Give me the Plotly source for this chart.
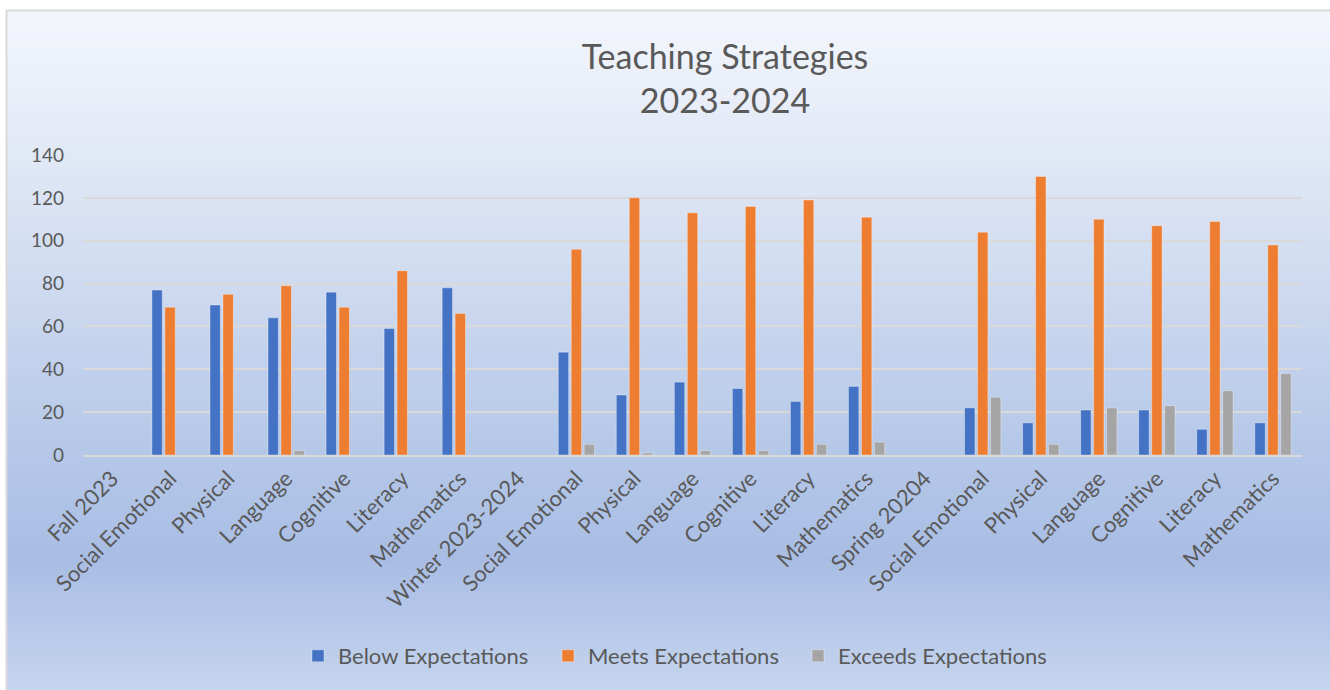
import plotly.graph_objects as go

categories = ["Fall 2023", "Social Emotional", "Physical", "Language", "Cognitive", "Literacy", "Mathematics",
              "Winter 2023-2024", "Social Emotional", "Physical", "Language", "Cognitive", "Literacy", "Mathematics",
              "Spring 20204", "Social Emotional", "Physical", "Language", "Cognitive", "Literacy", "Mathematics"]
below = [None, 77, 70, 64, 76, 59, 78,
         None, 48, 28, 34, 31, 25, 32,
         None, 22, 15, 21, 21, 12, 15]
meets = [None, 69, 75, 79, 69, 86, 66,
         None, 96, 120, 113, 116, 119, 111,
         None, 104, 130, 110, 107, 109, 98]
exceeds = [None, None, None, 2, None, None, None,
           None, 5, 1, 2, 2, 5, 6,
           None, 27, 5, 22, 23, 30, 38]
series_names = ["Below Expectations", "Meets Expectations", "Exceeds Expectations"]
series_colors = ["#4472C4", "#ED7D31", "#A5A5A5"]
yticks = [0, 20, 40, 60, 80, 100, 120, 140]

W, H = 1330, 690
L, R, T, B = 83, 28, 155, 235
PW, PH = W - L - R, H - T - B

def px_x(px):
    return (px - L) / PW

def px_y(py):
    return (H - B - py) / PH

xs = list(range(len(categories)))
fig = go.Figure()
for name, vals, col in zip(series_names, [below, meets, exceeds], series_colors):
    fig.add_trace(go.Bar(x=xs, y=vals, name=name,
                         marker=dict(color=col, line=dict(color="rgba(255,255,255,0.35)", width=1))))

# gradient background via strips
stops = [(10, (244, 246, 252)), (150, (226, 233, 246)), (450, (181, 200, 232)),
         (560, (169, 189, 228)), (690, (197, 212, 238))]
def color_at(py):
    for (a, ca), (b, cb) in zip(stops, stops[1:]):
        if a <= py <= b:
            t = (py - a) / (b - a)
            return tuple(round(ca[i] + (cb[i] - ca[i]) * t) for i in range(3))
    return stops[-1][1]

shapes = []
n = 85
for i in range(n):
    y0 = 10 + (690 - 10) * i / n
    y1 = 10 + (690 - 10) * (i + 1) / n + 1
    c = color_at((y0 + y1) / 2)
    shapes.append(dict(type="rect", xref="paper", yref="paper", layer="below",
                       x0=px_x(7), x1=px_x(1331), y0=px_y(y1), y1=px_y(y0),
                       fillcolor="rgb(%d,%d,%d)" % c, line=dict(width=0)))
# border
shapes.append(dict(type="rect", xref="paper", yref="paper", layer="below",
                   x0=px_x(6.5), x1=px_x(1340), y0=px_y(700), y1=px_y(10.5),
                   fillcolor="rgba(0,0,0,0)", line=dict(color="#d9d9d9", width=2)))

font = "Lato, 'Open Sans', sans-serif"
fig.update_layout(
    width=W, height=H,
    margin=dict(l=L, r=R, t=T, b=B, autoexpand=False),
    paper_bgcolor="white", plot_bgcolor="rgba(0,0,0,0)",
    shapes=shapes,
    barmode="group", bargap=0.33, bargroupgap=0.2,
    font=dict(family=font, color="#595959"),
    title=dict(text="Teaching Strategies<br>2023-2024", x=px_x(725), xref="paper", xanchor="center",
               y=1 - 69 / H, yanchor="middle", font=dict(size=34, color="#595959", family=font)),
    xaxis=dict(tickmode="array", tickvals=xs, ticktext=categories, range=[-0.5, len(categories) - 0.5],
               tickangle=-45, tickfont=dict(size=22, color="#595959"), showgrid=False,
               showline=True, linecolor="#d9d9d9", linewidth=2, ticks="", zeroline=False),
    yaxis=dict(range=[0, 140], tickvals=yticks, tickfont=dict(size=19, color="#595959"),
               gridcolor="#d9d9d9", gridwidth=1.5, zeroline=False, showline=False, ticks="",
               ticklabelstandoff=18),
    legend=dict(orientation="h", x=px_x(673), xanchor="center", y=px_y(656), yanchor="middle",
                font=dict(size=22, color="#595959"), bgcolor="rgba(0,0,0,0)",
                entrywidth=205, entrywidthmode="pixels", itemwidth=30),
)

fig.write_html("out.html", config={"displayModeBar": False},
               post_script="document.body.style.margin='0';")
